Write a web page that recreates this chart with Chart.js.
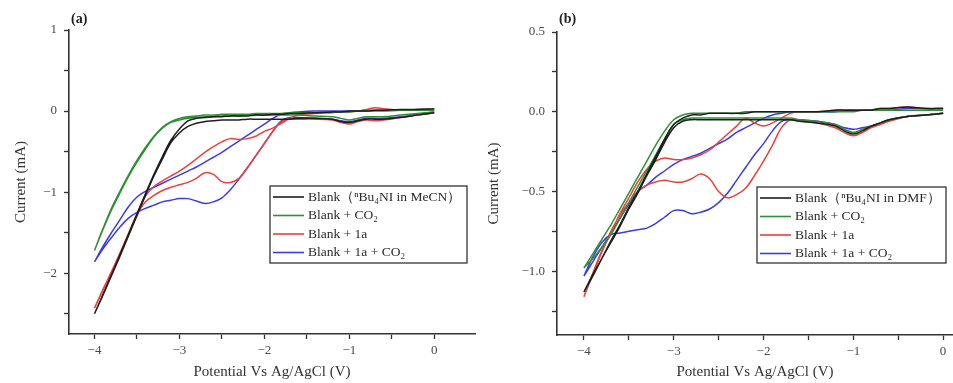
<!DOCTYPE html>
<html>
<head>
<meta charset="utf-8">
<script src="https://cdn.jsdelivr.net/npm/chart.js@4"></script>
<style>
  html, body { margin: 0; padding: 0; background: #fff; }
  #wrap { position: relative; width: 953px; height: 383px; }
  canvas { position: absolute; top: 0; }
</style>
</head>
<body>
<div id="wrap">
  <canvas id="chartA" width="480" height="383" style="left:0"></canvas>
  <canvas id="chartB" width="473" height="383" style="left:480px"></canvas>
</div>
<script>
// potential grid (V vs Ag/AgCl), shared by every curve
var potential = [0, -0.2, -0.4, -0.6, -0.7, -0.8, -0.9, -1.0, -1.1, -1.2, -1.4, -1.6, -1.7, -1.8, -1.9, -2.0,
  -2.1, -2.2, -2.3, -2.4, -2.5, -2.6, -2.7, -2.8, -2.9, -3.0, -3.1, -3.2, -3.3, -3.4, -3.5, -3.6, -3.7, -3.8, -3.9, -4.0];

var seriesNames = ['Blank', 'Blank + CO2', 'Blank + 1a', 'Blank + 1a + CO2'];
var legendA = ['Blank（ⁿBu₄NI in MeCN）', 'Blank + CO₂', 'Blank + 1a', 'Blank + 1a + CO₂'];
var legendB = ['Blank（ⁿBu₄NI in DMF）', 'Blank + CO₂', 'Blank + 1a', 'Blank + 1a + CO₂'];

// (a) MeCN, current in mA: fwd = cathodic sweep 0 -> -4, rev = return sweep -4 -> 0
var aBlankFwd = [-0.02, -0.05, -0.08, -0.1, -0.1, -0.1, -0.12, -0.14, -0.13, -0.1, -0.09, -0.09, -0.1, -0.1, -0.1, -0.1,
  -0.1, -0.1, -0.11, -0.11, -0.11, -0.12, -0.13, -0.15, -0.19, -0.27, -0.39, -0.59, -0.8, -1.04, -1.29, -1.54, -1.79, -2.03, -2.27, -2.5];
var aBlankRev = [0.03, 0.02, 0.02, 0.01, 0.01, 0.0, 0.0, 0.0, -0.01, -0.01, -0.02, -0.03, -0.03, -0.04, -0.04, -0.05,
  -0.05, -0.06, -0.06, -0.06, -0.07, -0.07, -0.08, -0.09, -0.12, -0.22, -0.36, -0.56, -0.78, -1.02, -1.27, -1.52, -1.77, -2.02, -2.26, -2.5];
var aCO2Fwd = [-0.01, -0.03, -0.05, -0.07, -0.07, -0.07, -0.09, -0.11, -0.09, -0.07, -0.06, -0.05, -0.05, -0.05, -0.05, -0.05,
  -0.05, -0.05, -0.06, -0.06, -0.06, -0.07, -0.07, -0.08, -0.09, -0.11, -0.14, -0.21, -0.32, -0.47, -0.63, -0.81, -1.01, -1.22, -1.46, -1.72];
var aCO2Rev = [0.01, 0.01, 0.01, 0.0, 0.0, 0.0, 0.0, -0.01, -0.01, -0.01, -0.02, -0.02, -0.02, -0.03, -0.03, -0.03,
  -0.03, -0.04, -0.04, -0.04, -0.04, -0.05, -0.05, -0.06, -0.07, -0.09, -0.13, -0.2, -0.31, -0.45, -0.61, -0.79, -0.99, -1.2, -1.45, -1.72];
var aIaFwd = [-0.02, -0.05, -0.08, -0.11, -0.12, -0.11, -0.13, -0.16, -0.14, -0.11, -0.1, -0.1, -0.1, -0.13, -0.25, -0.4,
  -0.55, -0.7, -0.83, -0.88, -0.87, -0.78, -0.76, -0.83, -0.88, -0.91, -0.94, -0.98, -1.04, -1.12, -1.28, -1.52, -1.76, -1.99, -2.21, -2.43];
var aIaRev = [0.02, 0.02, 0.01, 0.03, 0.04, 0.02, 0.0, -0.01, -0.01, -0.02, -0.03, -0.05, -0.09, -0.15, -0.21, -0.25,
  -0.31, -0.34, -0.35, -0.34, -0.38, -0.44, -0.51, -0.59, -0.67, -0.74, -0.8, -0.86, -0.93, -1.05, -1.27, -1.51, -1.75, -1.98, -2.2, -2.43];
var aIaCO2Fwd = [-0.01, -0.04, -0.07, -0.09, -0.09, -0.09, -0.11, -0.13, -0.12, -0.1, -0.09, -0.08, -0.08, -0.12, -0.25, -0.4,
  -0.55, -0.7, -0.84, -0.97, -1.07, -1.12, -1.14, -1.11, -1.08, -1.08, -1.1, -1.12, -1.16, -1.2, -1.25, -1.32, -1.43, -1.56, -1.7, -1.86];
var aIaCO2Rev = [0.02, 0.02, 0.01, 0.01, 0.01, 0.01, 0.0, 0.0, 0.0, 0.0, 0.0, -0.01, -0.02, -0.04, -0.09, -0.16,
  -0.23, -0.3, -0.37, -0.44, -0.51, -0.57, -0.63, -0.69, -0.74, -0.79, -0.84, -0.89, -0.94, -0.99, -1.06, -1.18, -1.34, -1.5, -1.67, -1.86];

// (b) DMF
var bBlankFwd = [-0.01, -0.02, -0.03, -0.05, -0.07, -0.09, -0.12, -0.14, -0.12, -0.09, -0.07, -0.06, -0.05, -0.05, -0.05, -0.05,
  -0.05, -0.05, -0.05, -0.05, -0.05, -0.05, -0.05, -0.05, -0.06, -0.1, -0.19, -0.3, -0.4, -0.51, -0.61, -0.72, -0.82, -0.92, -1.03, -1.13];
var bBlankRev = [0.02, 0.02, 0.03, 0.02, 0.02, 0.01, 0.01, 0.01, 0.01, 0.01, 0.0, 0.0, 0.0, 0.0, 0.0, 0.0,
  0.0, -0.01, -0.01, -0.01, -0.01, -0.01, -0.02, -0.02, -0.04, -0.08, -0.17, -0.28, -0.39, -0.5, -0.6, -0.71, -0.81, -0.92, -1.02, -1.13];
var bCO2Fwd = [-0.01, -0.02, -0.03, -0.05, -0.07, -0.09, -0.11, -0.13, -0.11, -0.08, -0.06, -0.05, -0.04, -0.04, -0.04, -0.04,
  -0.04, -0.04, -0.04, -0.04, -0.04, -0.04, -0.04, -0.04, -0.05, -0.08, -0.17, -0.27, -0.37, -0.47, -0.57, -0.67, -0.77, -0.85, -0.92, -0.98];
var bCO2Rev = [0.01, 0.01, 0.01, 0.01, 0.01, 0.01, 0.01, 0.0, 0.0, 0.0, 0.0, 0.0, 0.0, 0.0, 0.0, 0.0,
  0.0, 0.0, -0.01, -0.01, -0.01, -0.01, -0.01, -0.01, -0.02, -0.05, -0.12, -0.21, -0.31, -0.41, -0.51, -0.61, -0.71, -0.8, -0.89, -0.98];
var bIaFwd = [-0.01, -0.02, -0.03, -0.06, -0.08, -0.1, -0.13, -0.15, -0.13, -0.1, -0.07, -0.06, -0.05, -0.1, -0.21, -0.31,
  -0.4, -0.48, -0.52, -0.54, -0.5, -0.42, -0.39, -0.42, -0.44, -0.44, -0.43, -0.44, -0.46, -0.5, -0.57, -0.65, -0.75, -0.87, -1.01, -1.16];
var bIaRev = [0.02, 0.02, 0.03, 0.02, 0.02, 0.01, 0.01, 0.01, 0.01, 0.01, 0.0, 0.0, -0.01, -0.04, -0.07, -0.09,
  -0.07, -0.04, -0.09, -0.14, -0.19, -0.24, -0.27, -0.29, -0.3, -0.3, -0.29, -0.31, -0.36, -0.44, -0.54, -0.64, -0.76, -0.88, -1.02, -1.16];
var bIaCO2Fwd = [-0.01, -0.02, -0.03, -0.05, -0.07, -0.09, -0.1, -0.11, -0.1, -0.08, -0.06, -0.05, -0.05, -0.06, -0.12, -0.2,
  -0.27, -0.35, -0.43, -0.51, -0.57, -0.61, -0.63, -0.64, -0.62, -0.62, -0.66, -0.7, -0.73, -0.74, -0.75, -0.76, -0.77, -0.82, -0.91, -1.03];
var bIaCO2Rev = [0.02, 0.02, 0.02, 0.01, 0.01, 0.01, 0.01, 0.01, 0.01, 0.0, 0.0, 0.0, 0.0, -0.01, -0.02, -0.04,
  -0.07, -0.1, -0.13, -0.17, -0.2, -0.23, -0.26, -0.28, -0.3, -0.33, -0.37, -0.41, -0.46, -0.5, -0.58, -0.67, -0.76, -0.85, -0.94, -1.03];

// axis ticks
var xTicks = [-4, -3.5, -3, -2.5, -2, -1.5, -1, -0.5, 0];
var yTicksA = [-2.5, -2, -1.5, -1, -0.5, 0, 0.5, 1];
var yTicksB = [-1.25, -1, -0.75, -0.5, -0.25, 0, 0.25, 0.5];

var colors = ['#1e1e1e', '#2f8f35', '#e8423c', '#3a3ce6'];
var serif = "'Liberation Serif', 'Times New Roman', serif";

function loop(fwd, rev) {
  var pts = potential.map(function(p, i) { return {x: p, y: fwd[i]}; });
  for (var i = potential.length - 1; i >= 0; i--) pts.push({x: potential[i], y: rev[i]});
  return pts;
}

function minus(s) { return s.replace('-', '\u2212'); }

// legend box and panel letter drawn inside the plot
function panelPlugin(letter, labels, box) {
  return {
    id: 'panel' + letter,
    afterDraw: function(chart) {
      var ctx = chart.ctx;
      ctx.save();
      ctx.font = 'bold 14px ' + serif;
      ctx.fillStyle = '#222';
      ctx.textBaseline = 'middle';
      ctx.textAlign = 'left';
      ctx.fillText('(' + letter + ')', chart.chartArea.left + 2, 19);

      ctx.strokeStyle = '#333';
      ctx.lineWidth = 1.3;
      ctx.strokeRect(box.x, box.y, box.w, box.h);
      ctx.font = '13.5px ' + serif;
      for (var i = 0; i < labels.length; i++) {
        var yy = box.y + 11 + i * 18.5;
        ctx.strokeStyle = colors[i];
        ctx.lineWidth = 1.6;
        ctx.beginPath();
        ctx.moveTo(box.x + 3, yy);
        ctx.lineTo(box.x + 34, yy);
        ctx.stroke();
        ctx.fillStyle = '#2a2a2a';
        ctx.fillText(labels[i], box.x + 38, yy);
      }
      ctx.restore();
    }
  };
}

function makePanel(id, c) {
  var datasets = c.curves.map(function(cv, i) {
    return {
      label: seriesNames[i],
      data: loop(cv[0], cv[1]),
      showLine: true,
      borderColor: colors[i],
      backgroundColor: colors[i],
      borderWidth: 1.5,
      pointRadius: 0,
      tension: 0.35
    };
  });
  var tickFont = {family: serif, size: 13};
  return new Chart(document.getElementById(id), {
    type: 'scatter',
    data: {datasets: datasets},
    options: {
      responsive: false,
      animation: false,
      layout: {padding: {top: c.top, right: c.right, left: 0, bottom: 0}},
      plugins: {legend: {display: false}, tooltip: {enabled: false}},
      scales: {
        x: {
          min: -4.3, max: c.xmax,
          afterBuildTicks: function(s) { s.ticks = xTicks.map(function(v) { return {value: v}; }); },
          afterFit: function(s) { s.height = 383 - c.bottom; },
          border: {color: '#333', width: 1.6},
          grid: {drawOnChartArea: false, drawTicks: true, tickLength: 5, color: '#333', tickWidth: 1.3},
          ticks: {
            autoSkip: false, maxRotation: 0, padding: 4, color: '#4a4a4a', font: tickFont,
            callback: function(v) { return Number.isInteger(v) ? minus(String(v)) : ''; }
          },
          title: {display: true, text: 'Potential Vs Ag/AgCl (V)', color: '#333',
            font: {family: serif, size: 15}, padding: {top: 0, bottom: 2}}
        },
        y: {
          min: c.ymin, max: c.ymax,
          afterBuildTicks: function(s) { s.ticks = c.yTicks.map(function(v) { return {value: v}; }); },
          afterFit: function(s) { s.width = c.left; },
          border: {color: '#333', width: 1.6},
          grid: {drawOnChartArea: false, drawTicks: true, tickLength: 5, color: '#333', tickWidth: 1.3},
          ticks: {
            autoSkip: false, padding: 7, color: '#4a4a4a', font: tickFont,
            callback: c.yLabel
          },
          title: {display: true, text: 'Current (mA)', color: '#333',
            font: {family: serif, size: 15}, padding: {top: c.yTitlePad, bottom: 0}}
        }
      }
    },
    plugins: [panelPlugin(c.letter, c.legend, c.box)]
  });
}

makePanel('chartA', {
  letter: 'a', legend: legendA,
  curves: [[aBlankFwd, aBlankRev], [aCO2Fwd, aCO2Rev], [aIaFwd, aIaRev], [aIaCO2Fwd, aIaCO2Rev]],
  top: 30, right: 5, left: 69, bottom: 334, xmax: 0.48,
  ymin: -2.75, ymax: 1, yTicks: yTicksA, yTitlePad: 12,
  yLabel: function(v) { return Number.isInteger(v) ? minus(String(v)) : ''; },
  box: {x: 270, y: 186, w: 197, h: 77}
});

makePanel('chartB', {
  letter: 'b', legend: legendB,
  curves: [[bBlankFwd, bBlankRev], [bCO2Fwd, bCO2Rev], [bIaFwd, bIaRev], [bIaCO2Fwd, bIaCO2Rev]],
  top: 32, right: 0, left: 77, bottom: 335, xmax: 0.11,
  ymin: -1.4, ymax: 0.5, yTicks: yTicksB, yTitlePad: 5,
  yLabel: function(v) { return Math.abs(v * 2 - Math.round(v * 2)) < 1e-9 ? minus(v.toFixed(1)) : ''; },
  box: {x: 277, y: 187, w: 189, h: 76}
});
</script>
</body>
</html>
